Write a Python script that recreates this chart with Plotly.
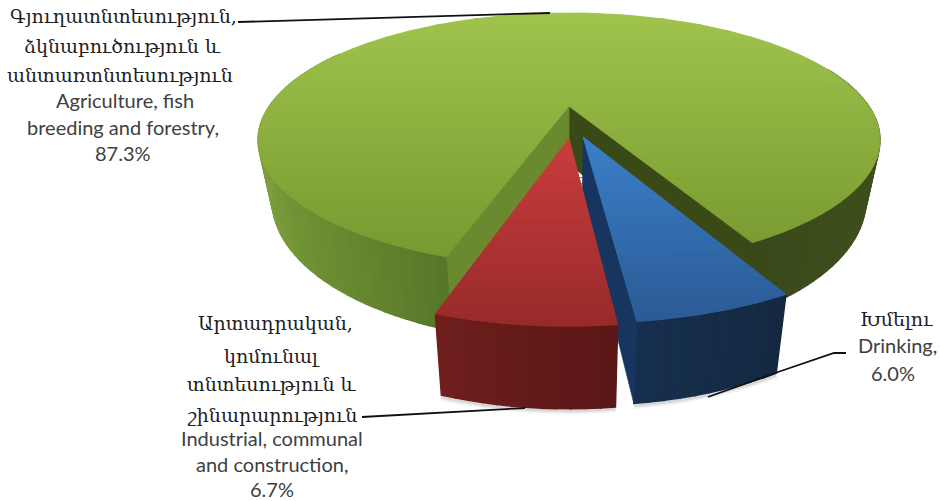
import math
import plotly.graph_objects as go

# ---- data ----
categories = ["Drinking", "Industrial, communal and construction", "Agriculture, fish breeding and forestry"]
values = [6.0, 6.7, 87.3]

green_lines = ["Գյուղատնտեսություն,", "ձկնաբուծություն և", "անտառտնտեսություն", "Agriculture, fish", "breeding and forestry,", "87.3%"]
red_lines = ["Արտադրական,", "կոմունալ", "տնտեսություն և", "շինարարություն", "Industrial, communal", "and construction,", "6.7%"]
blue_lines = ["Խմելու", "Drinking,", "6.0%"]

# ---- projection / style parameters ----
START = 152.1                 # first slice angle, clockwise from the back
CX, CY, RX, RY = 569, 140, 311, 127
C = 0.26
S = math.sqrt(1 - C * C)
EXPLODE = [(0.044, 0.2375), (0.0, 0.25), (0.0, 0.0)]
TOP_GRAD = [("#3b7fc9", "#2b5a94"), ("#cb3d3d", "#982a2a"), ("#9fc44d", "#78992f")]
TOP_SPAN = [(137, 325), (137, 327), (13, 258)]


def project(u, v):
    d = 1 - C * v
    return CX + RX * u * S / d, CY + RY * (v - C) / d


def lower(p):
    return CX + (p[0] - CX) * 0.955, 189 + (p[1] - 130) * 1.12


def rim(theta, off=(0, 0)):
    t = math.radians(theta)
    return project(math.sin(t) + off[0], -math.cos(t) + off[1])


def hex2rgb(h):
    return tuple(int(h[i:i + 2], 16) for i in (1, 3, 5))


def mix(a, b, t):
    t = max(0, min(1, t))
    ca, cb = hex2rgb(a), hex2rgb(b)
    return "rgb(%d,%d,%d)" % tuple(round(x + (y - x) * t) for x, y in zip(ca, cb))


def ramp(stops, x):
    for (x0, c0), (x1, c1) in zip(stops, stops[1:]):
        if x <= x1:
            return mix(c0, c1, (x - x0) / (x1 - x0))
    return stops[-1][1]


def clip(poly, y, keep_below):
    out = []
    inside = (lambda p: p[1] >= y) if keep_below else (lambda p: p[1] <= y)
    for i, p in enumerate(poly):
        q = poly[(i + 1) % len(poly)]
        if inside(p):
            out.append(p)
        if inside(p) != inside(q):
            t = (y - p[1]) / (q[1] - p[1])
            out.append((p[0] + (q[0] - p[0]) * t, y))
    return out


fig = go.Figure()


def poly(points, color, width=0.7):
    if len(points) < 3:
        return
    xs = [p[0] for p in points] + [points[0][0]]
    ys = [p[1] for p in points] + [points[0][1]]
    fig.add_trace(go.Scatter(x=xs, y=ys, mode="lines", fill="toself", fillcolor=color,
                             line=dict(color=color, width=width), hoverinfo="skip", showlegend=False))


def top_gradient(points, c0, c1, y0, y1, bands=30):
    lo = min(p[1] for p in points)
    hi = max(p[1] for p in points)
    for i in range(bands):
        a = lo + (hi - lo) * i / bands
        b = lo + (hi - lo) * (i + 1) / bands
        piece = clip(clip(points, a, True), b, False)
        poly(piece, mix(c0, c1, ((a + b) / 2 - y0) / (y1 - y0)), width=1.0)


def side(t0, t1, off, stops, step=2.0):
    n = max(1, int(abs(t1 - t0) / step))
    for i in range(n):
        a = t0 + (t1 - t0) * i / n
        b = t0 + (t1 - t0) * (i + 1) / n
        pa, pb = rim(a, off), rim(b, off)
        color = ramp(stops, (pa[0] + pb[0]) / 2)
        poly([pa, pb, lower(pb), lower(pa)], color, width=1.4)


# slice angles from the values
total = sum(values)
angles = []
a = START
for val in values:
    angles.append((a, a + val / total * 360))
    a += val / total * 360

(b0, b1), (r0, r1), (g0, g1) = angles
blue_off, red_off, green_off = EXPLODE

# soft shadows beneath the front pieces
for w, col in ((7, "rgba(120,120,120,0.10)"), (3, "rgba(90,90,90,0.16)")):
    for t0, t1, off in ((b0, b1, blue_off), (r0, r1, red_off)):
        n = 16
        pts = [lower(rim(t0 + (t1 - t0) * i / n, off)) for i in range(n + 1)]
        fig.add_trace(go.Scatter(x=[p[0] for p in pts], y=[p[1] + 2 for p in pts], mode="lines",
                                 line=dict(color=col, width=w), hoverinfo="skip", showlegend=False))

# green slice: outer wall, top, then inner walls
side(70, g1 - 360, green_off, [(700, "#36461a"), (880, "#3f4f1c")])
side(g0, 300, green_off, [(258, "#7d9e3c"), (300, "#6f9033"), (447, "#567729")])
arc = [rim(g0 + (g1 - g0) * i / 160) for i in range(161)]
apex_g = project(*green_off)
top_gradient([apex_g] + arc, *TOP_GRAD[2], *TOP_SPAN[2], bands=40)
rim_l, rim_r = rim(g0), rim(g1 - 360)
poly([apex_g, rim_r, lower(rim_r), lower(apex_g)], "#3a4a16")
poly([apex_g, rim_l, lower(rim_l), lower(apex_g)], "#6b8a30")

# blue slice
side(b0, b1, blue_off, [(630, "#16304f"), (790, "#142840")])
apex_b = project(*blue_off)
edge = rim(b1, blue_off)
poly([apex_b, edge, lower(edge), lower(apex_b)], "#17365f")
top_gradient([apex_b] + [rim(b0 + (b1 - b0) * i / 30, blue_off) for i in range(31)], *TOP_GRAD[0], *TOP_SPAN[0])

# red slice
side(r0, r1, red_off, [(430, "#6e1f1d"), (620, "#5a1716")])
apex_r = project(*red_off)
top_gradient([apex_r] + [rim(r0 + (r1 - r0) * i / 30, red_off) for i in range(31)], *TOP_GRAD[1], *TOP_SPAN[1])

# ---- leader lines ----
leaders = [
    ([238, 550], [22, 13]),
    ([362, 525], [417, 408]),
    ([846, 834, 778, 708], [353, 353, 372, 397]),
]
for lx, ly in leaders:
    fig.add_trace(go.Scatter(x=lx, y=ly, mode="lines", line=dict(color="#111111", width=1.8),
                             hoverinfo="skip", showlegend=False))

# ---- labels ----
ARM = "DejaVu Serif"
LAT = "Lato"


def labels(lines, xs, ys):
    for text, x, y in zip(lines, xs, ys):
        armenian = any(0x530 <= ord(ch) <= 0x58F for ch in text)
        fig.add_annotation(x=x, y=y, text=text, showarrow=False, xanchor="center", yanchor="middle",
                           font=dict(family=ARM if armenian else LAT, size=19 if armenian else 20,
                                     color="#1e1e1e" if armenian else "#404040"))


labels(green_lines, [123, 122, 120, 125, 123, 123], [16, 46, 75, 100, 127, 153])
labels(red_lines, [275, 272, 272, 272, 272, 272, 272], [323, 356, 384, 415, 438, 464, 489])
labels(blue_lines, [896, 897, 893], [319, 345, 373])

fig.update_layout(
    width=940, height=501, margin=dict(l=0, r=0, t=0, b=0),
    paper_bgcolor="white", plot_bgcolor="white", showlegend=False,
    xaxis=dict(range=[0, 940], visible=False, fixedrange=True),
    yaxis=dict(range=[501, 0], visible=False, fixedrange=True),
)
fig.write_html("out.html", config={"displayModeBar": False},
               post_script="document.body.style.margin='0';document.documentElement.style.overflow='hidden';")
